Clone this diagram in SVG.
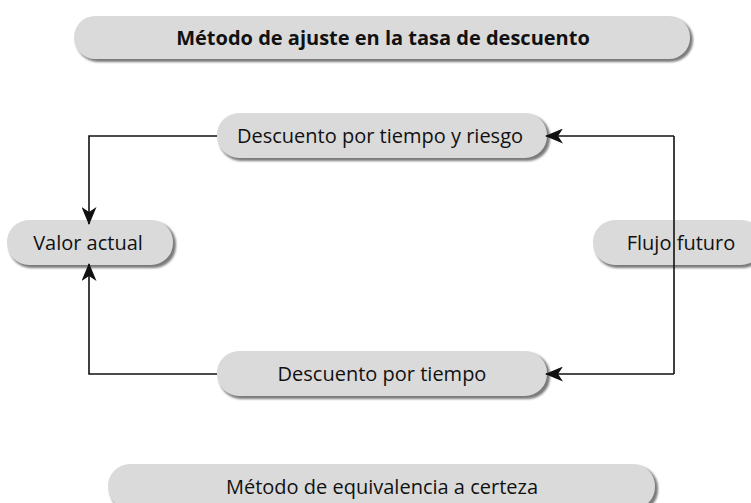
<svg xmlns="http://www.w3.org/2000/svg" width="751" height="503" viewBox="0 0 751 503">
<style>
.box{fill:#dadada;}
.sh{fill:#7a7a7a;filter:url(#blur);}
.t{font-family:"Open Sans","Noto Sans",sans-serif;font-size:20px;fill:#111;text-anchor:middle;dominant-baseline:central;}
.b{font-weight:bold;}
.c{fill:none;stroke:#111;stroke-width:1.6;}
</style>
<defs>
<filter id="blur" x="-5%" y="-20%" width="110%" height="140%"><feGaussianBlur stdDeviation="0.8"/></filter>
<marker id="arr" viewBox="0 0 18 15" refX="17" refY="7.5" markerWidth="18" markerHeight="15" markerUnits="userSpaceOnUse" orient="auto">
<path d="M0,0 L18,7.5 L0,15 L5,7.5 Z" fill="#111"/>
</marker>
</defs>
<g id="n-title">
<rect class="sh" x="76" y="18" width="617" height="44" rx="22"/>
<rect class="box" x="74" y="16" width="616" height="43" rx="21"/>
<text class="t b" x="383" y="37">Método de ajuste en la tasa de descuento</text>
</g>
<g id="n-riesgo">
<rect class="sh" x="219" y="115" width="331" height="46" rx="22"/>
<rect class="box" x="217" y="113" width="330" height="45" rx="22"/>
<text class="t" x="380" y="135">Descuento por tiempo y riesgo</text>
</g>
<g id="n-valor">
<rect class="sh" x="9" y="222" width="167" height="46" rx="22"/>
<rect class="box" x="7" y="220" width="166" height="45" rx="22"/>
<text class="t" x="88" y="242">Valor actual</text>
</g>
<g id="n-flujo">
<rect class="sh" x="595" y="222" width="170" height="46" rx="22"/>
<rect class="box" x="593" y="220" width="170" height="45" rx="22"/>
<text class="t" x="681" y="242">Flujo futuro</text>
</g>
<g id="n-tiempo">
<rect class="sh" x="219" y="353" width="331" height="46" rx="22"/>
<rect class="box" x="217" y="351" width="330" height="45" rx="22"/>
<text class="t" x="382" y="373">Descuento por tiempo</text>
</g>
<g id="n-certeza">
<rect class="sh" x="110" y="466" width="548" height="46" rx="22"/>
<rect class="box" x="108" y="464" width="547" height="45" rx="22"/>
<text class="t" x="382" y="486">Método de equivalencia a certeza</text>
</g>
<g id="connectors">
<path class="c" d="M217,136 H89 V224" marker-end="url(#arr)"/>
<path class="c" d="M217,374 H89 V264" marker-end="url(#arr)"/>
<path class="c" d="M674,136 V374"/>
<path class="c" d="M674,136 H546" marker-end="url(#arr)"/>
<path class="c" d="M674,374 H546" marker-end="url(#arr)"/>
</g>
</svg>
